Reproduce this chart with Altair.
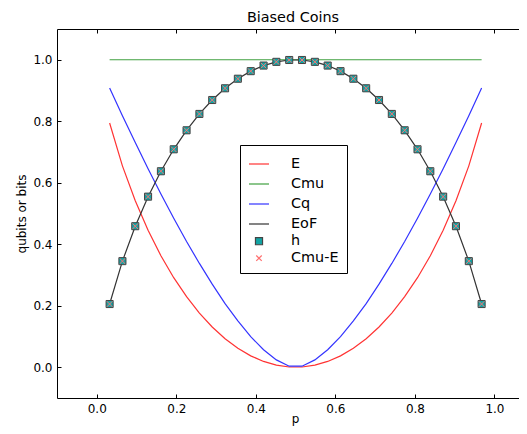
import altair as alt
import pandas as pd

# p values (31 equal steps, endpoints excluded)
p = [0.0323, 0.0645, 0.0968, 0.1290, 0.1613, 0.1935, 0.2258, 0.2581, 0.2903, 0.3226,
     0.3548, 0.3871, 0.4194, 0.4516, 0.4839, 0.5161, 0.5484, 0.5806, 0.6129, 0.6452,
     0.6774, 0.7097, 0.7419, 0.7742, 0.8065, 0.8387, 0.8710, 0.9032, 0.9355, 0.9677]

h = [0.2056, 0.3451, 0.4587, 0.5548, 0.6374, 0.7088, 0.7706, 0.8238, 0.8691, 0.9072,
     0.9383, 0.9629, 0.9811, 0.9932, 0.9992, 0.9992, 0.9932, 0.9811, 0.9629, 0.9383,
     0.9072, 0.8691, 0.8238, 0.7706, 0.7088, 0.6374, 0.5548, 0.4587, 0.3451, 0.2056]

E = [0.7944, 0.6549, 0.5413, 0.4452, 0.3626, 0.2912, 0.2294, 0.1762, 0.1309, 0.0928,
     0.0617, 0.0371, 0.0189, 0.0068, 0.0008, 0.0008, 0.0068, 0.0189, 0.0371, 0.0617,
     0.0928, 0.1309, 0.1762, 0.2294, 0.2912, 0.3626, 0.4452, 0.5413, 0.6549, 0.7944]

Cmu = [1.0] * 30

Cq = [0.9079, 0.8181, 0.7306, 0.6457, 0.5635, 0.4844, 0.4088, 0.3376, 0.2702, 0.2069,
      0.1511, 0.0995, 0.0569, 0.0239, 0.0035, 0.0035, 0.0239, 0.0569, 0.0995, 0.1511,
      0.2069, 0.2702, 0.3376, 0.4088, 0.4844, 0.5635, 0.6457, 0.7306, 0.8181, 0.9079]

EoF = h[:]
CmuE = [0.2056, 0.3451, 0.4587, 0.5548, 0.6374, 0.7088, 0.7706, 0.8238, 0.8691, 0.9072,
        0.9383, 0.9629, 0.9811, 0.9932, 0.9992, 0.9992, 0.9932, 0.9811, 0.9629, 0.9383,
        0.9072, 0.8691, 0.8238, 0.7706, 0.7088, 0.6374, 0.5548, 0.4587, 0.3451, 0.2056]

series_names = ["E", "Cmu", "Cq", "EoF", "h", "Cmu-E"]
tick_vals = [0.0, 0.2, 0.4, 0.6, 0.8, 1.0]

rows = []
for name, vals in [("E", E), ("Cmu", Cmu), ("Cq", Cq), ("EoF", EoF), ("h", h), ("Cmu-E", CmuE)]:
    for i, (pp, v) in enumerate(zip(p, vals)):
        rows.append({"p": pp, "v": v, "series": name, "order": i})
df = pd.DataFrame(rows)

W, H = 462, 369
FONT = "DejaVu Sans"

stroke_scale = alt.Scale(domain=series_names,
                         range=["#ff3333", "#40a040", "#3333ff", "#333333", "#444444", "#ff7070"])
fill_scale = alt.Scale(domain=series_names,
                       range=["transparent", "transparent", "transparent", "transparent", "#12a5a5", "transparent"])
shape_scale = alt.Scale(domain=series_names,
                        range=["stroke", "stroke", "stroke", "stroke", "square", "M-1,-1L1,1M1,-1L-1,1"])
size_scale = alt.Scale(type="ordinal", domain=series_names, range=[400, 400, 400, 400, 50, 30])

xs = alt.Scale(domain=[-0.1, 1.0617], nice=False, zero=False)
ys = alt.Scale(domain=[-0.1, 1.1], nice=False, zero=False)

legend = alt.Legend(title=None, orient="none", legendX=183, legendY=116,
                    strokeColor="black", fillColor="white", padding=8,
                    labelFont=FONT, labelFontSize=14.4, labelColor="black",
                    labelOffset=21, rowPadding=2, symbolStrokeWidth=1.2,
                    labelLimit=200)

lines = alt.Chart(df).transform_filter(
    alt.FieldOneOfPredicate(field="series", oneOf=["E", "Cmu", "Cq", "EoF"])
).mark_line(strokeWidth=1.2).encode(
    x=alt.X("p:Q", scale=xs,
            axis=alt.Axis(values=tick_vals, format=".1f", tickSize=0, grid=False,
                          domainColor="black", labelPadding=5, title="p",
                          titleBaseline="alphabetic", titleY=24,
                          titleFontWeight="normal", titleFont=FONT,
                          titleFontSize=12, titleX=238)),
    y=alt.Y("v:Q", scale=ys,
            axis=alt.Axis(values=tick_vals, format=".1f", tickSize=0, grid=False,
                          domainColor="black", labelPadding=5, title="qubits or bits",
                          titlePadding=4, titleFontWeight="normal", titleFont=FONT,
                          titleFontSize=12)),
    stroke=alt.Stroke("series:N", scale=stroke_scale, legend=legend),
    detail="series:N",
    order="order:Q",
)

hpts = alt.Chart(df).transform_filter(
    alt.datum.series == "h"
).mark_point(filled=False, strokeWidth=1, opacity=1).encode(
    x=alt.X("p:Q", scale=xs,
            axis=alt.Axis(orient="top", offset=-H, values=tick_vals, labels=False,
                          domain=False, tickSize=4, tickColor="black", grid=False, title=None)),
    y=alt.Y("v:Q", scale=ys,
            axis=alt.Axis(orient="right", offset=-W, values=tick_vals, labels=False,
                          domain=False, tickSize=4, tickColor="black", grid=False, title=None)),
    stroke=alt.Stroke("series:N", scale=stroke_scale, legend=legend),
    fill=alt.Fill("series:N", scale=fill_scale, legend=legend),
    shape=alt.Shape("series:N", scale=shape_scale, legend=legend),
    size=alt.Size("series:N", scale=size_scale, legend=legend),
)

xpts = alt.Chart(df).transform_filter(
    alt.datum.series == "Cmu-E"
).mark_point(filled=False, strokeWidth=1, opacity=1).encode(
    x=alt.X("p:Q", scale=xs,
            axis=alt.Axis(orient="bottom", offset=-H, values=tick_vals, labels=False,
                          domain=True, domainColor="black", tickSize=4, tickColor="black",
                          grid=False, title=None)),
    y=alt.Y("v:Q", scale=ys, axis=None),
    stroke=alt.Stroke("series:N", scale=stroke_scale, legend=legend),
    fill=alt.Fill("series:N", scale=fill_scale, legend=legend),
    shape=alt.Shape("series:N", scale=shape_scale, legend=legend),
    size=alt.Size("series:N", scale=size_scale, legend=legend),
)

chart = alt.layer(lines, hpts, xpts).resolve_axis(
    x="independent", y="independent"
).properties(
    width=W, height=H,
    title=alt.TitleParams("Biased Coins", font=FONT, fontSize=14.4, fontWeight="normal",
                          anchor="middle", color="black", offset=3, dx=5),
    autosize=alt.AutoSizeParams(type="none"),
    padding={"left": 49, "top": 21, "right": 0, "bottom": 28},
).configure_view(strokeWidth=0).configure_axis(
    labelFont=FONT, labelFontSize=12, labelColor="black", titleColor="black",
    domainWidth=1, tickWidth=1
)

chart.save("out.html", embed_options={"renderer": "svg", "actions": False})
